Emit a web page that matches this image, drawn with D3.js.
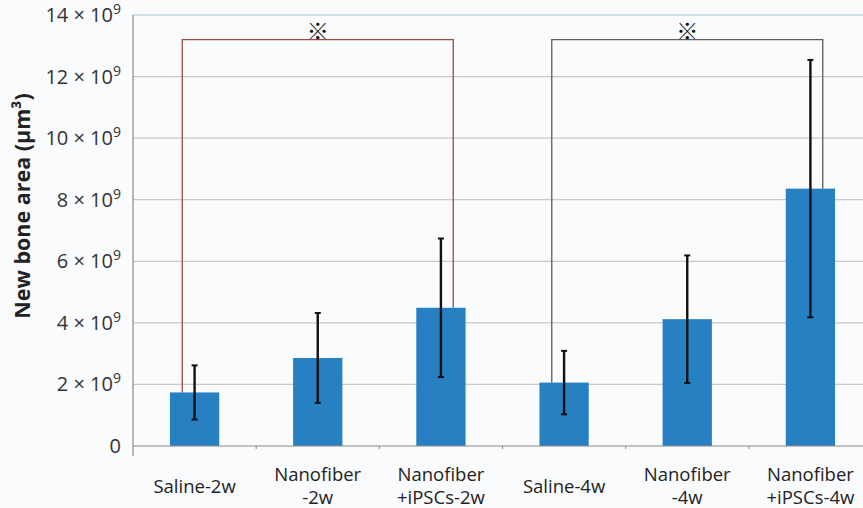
<!DOCTYPE html>
<html>
<head>
<meta charset="utf-8">
<script src="https://cdn.jsdelivr.net/npm/d3@7"></script>
<style>
  html, body { margin: 0; padding: 0; background: #fafbfd; }
  svg { display: block; font-family: "Open Sans", "Noto Sans", sans-serif; }
</style>
</head>
<body>
<div id="viz"></div>
<script>
// values in units of 10^9 um^3
var groups = ['Saline-2w', 'Nanofiber-2w', 'Nanofiber+iPSCs-2w', 'Saline-4w', 'Nanofiber-4w', 'Nanofiber+iPSCs-4w'];
var labelLines = [['Saline-2w'], ['Nanofiber', '-2w'], ['Nanofiber', '+iPSCs-2w'], ['Saline-4w'], ['Nanofiber', '-4w'], ['Nanofiber', '+iPSCs-4w']];
var means = [1.74, 2.86, 4.49, 2.06, 4.12, 8.36];
var errors = [0.88, 1.46, 2.25, 1.03, 2.07, 4.18];
var yTicks = [0, 2, 4, 6, 8, 10, 12, 14];
// significance brackets: [from group, to group, height]
var brackets = [[0, 2, 13.2], [3, 5, 13.2]];
var bracketColors = ['#9a4b3d', '#5c5c5c'];

var width = 863, height = 508;
var margin = {top: 15, right: -9, bottom: 62, left: 133};

var svg = d3.select('#viz').append('svg')
  .attr('width', width)
  .attr('height', height);

svg.append('rect').attr('width', width).attr('height', height).attr('fill', '#fafbfd');

var x = d3.scaleBand()
  .domain(groups)
  .range([margin.left, width - margin.right])
  .paddingInner(0.6)
  .paddingOuter(0.3);

var y = d3.scaleLinear()
  .domain([0, 14])
  .range([height - margin.bottom, margin.top]);

var step = x.step();
var cx = function(g) { return x(g) + x.bandwidth() / 2; };

// gridlines
svg.append('g').selectAll('line')
  .data(yTicks.filter(function(d) { return d > 0; }))
  .enter().append('line')
  .attr('x1', margin.left).attr('x2', width)
  .attr('y1', function(d) { return y(d); })
  .attr('y2', function(d) { return y(d); })
  .attr('stroke', function(d) { return d == 14 ? '#a9cadb' : '#cdc8c5'; })
  .attr('stroke-width', 1.2);

// y tick labels with superscript exponent
var tl = svg.append('g').selectAll('text')
  .data(yTicks)
  .enter().append('text')
  .attr('x', 121)
  .attr('y', function(d) { return y(d) + 7; })
  .attr('text-anchor', 'end')
  .attr('fill', '#333')
  .style('font-size', '20px');
tl.each(function(d) {
  var t = d3.select(this);
  if (d == 0) { t.text('0'); return; }
  t.append('tspan').text(d + ' \u00d7 10');
  t.append('tspan').attr('dy', -8).style('font-size', '14px').text('9');
});

// brackets
brackets.forEach(function(b, i) {
  var x1 = cx(groups[b[0]]) - step * 0.1;
  var x2 = cx(groups[b[1]]) + step * 0.1;
  var path = d3.path();
  path.moveTo(x1, y(means[b[0]]));
  path.lineTo(x1, y(b[2]));
  path.lineTo(x2, y(b[2]));
  path.lineTo(x2, y(means[b[1]]));
  svg.append('path')
    .attr('d', path.toString())
    .attr('fill', 'none')
    .attr('stroke', bracketColors[i])
    .attr('stroke-width', 1.3);
  svg.append('text')
    .attr('x', (x1 + x2) / 2)
    .attr('y', y(b[2]) - 1)
    .attr('text-anchor', 'middle')
    .attr('fill', '#111')
    .style('font-family', '"Noto Sans CJK JP", "Noto Sans", sans-serif')
    .style('font-size', '22px')
    .text('\u203b');
});

// bars
svg.append('g').selectAll('rect')
  .data(groups)
  .enter().append('rect')
  .attr('x', function(d) { return x(d); })
  .attr('y', function(d, i) { return y(means[i]); })
  .attr('width', x.bandwidth())
  .attr('height', function(d, i) { return y(0) - y(means[i]); })
  .attr('fill', '#2780c2');

// error bars
var eb = svg.append('g').selectAll('g')
  .data(groups)
  .enter().append('g');
eb.append('line')
  .attr('x1', cx).attr('x2', cx)
  .attr('y1', function(d, i) { return y(means[i] + errors[i]); })
  .attr('y2', function(d, i) { return y(means[i] - errors[i]); })
  .attr('stroke', '#111').attr('stroke-width', 2.4);
[1, -1].forEach(function(s) {
  eb.append('line')
    .attr('x1', function(d) { return cx(d) - 3; })
    .attr('x2', function(d) { return cx(d) + 3; })
    .attr('y1', function(d, i) { return y(means[i] + s * errors[i]); })
    .attr('y2', function(d, i) { return y(means[i] + s * errors[i]); })
    .attr('stroke', '#111').attr('stroke-width', 2);
});

// axes lines
svg.append('line')
  .attr('x1', margin.left).attr('x2', width)
  .attr('y1', y(0)).attr('y2', y(0))
  .attr('stroke', '#8a8a8a').attr('stroke-width', 1.2);
svg.append('line')
  .attr('x1', margin.left).attr('x2', margin.left)
  .attr('y1', y(14)).attr('y2', y(0) + 10)
  .attr('stroke', '#8a8a8a').attr('stroke-width', 1.2);
svg.append('g').selectAll('line')
  .data(groups.slice(0, groups.length - 1))
  .enter().append('line')
  .attr('x1', function(d) { return cx(d) + step / 2; })
  .attr('x2', function(d) { return cx(d) + step / 2; })
  .attr('y1', y(0)).attr('y2', y(0) + 3)
  .attr('stroke', '#8a8a8a').attr('stroke-width', 1);

// category labels
var xl = svg.append('g').selectAll('text')
  .data(groups)
  .enter().append('text')
  .attr('text-anchor', 'middle')
  .attr('fill', '#222')
  .style('font-size', '18.5px');
xl.each(function(d, i) {
  var lines = labelLines[i];
  var t = d3.select(this);
  if (lines.length == 1) {
    t.append('tspan').attr('x', cx(d)).attr('y', 493).text(lines[0]);
  } else {
    t.append('tspan').attr('x', cx(d)).attr('y', 481).text(lines[0]);
    t.append('tspan').attr('x', cx(d)).attr('y', 504).text(lines[1]);
  }
});

// y axis title
svg.append('text')
  .attr('transform', 'translate(30,' + 206 + ') rotate(-90)')
  .attr('text-anchor', 'middle')
  .attr('fill', '#222')
  .style('font-size', '21.5px')
  .style('font-weight', 'bold')
  .text('New bone area (\u03bcm\u00b3)');
</script>
</body>
</html>
